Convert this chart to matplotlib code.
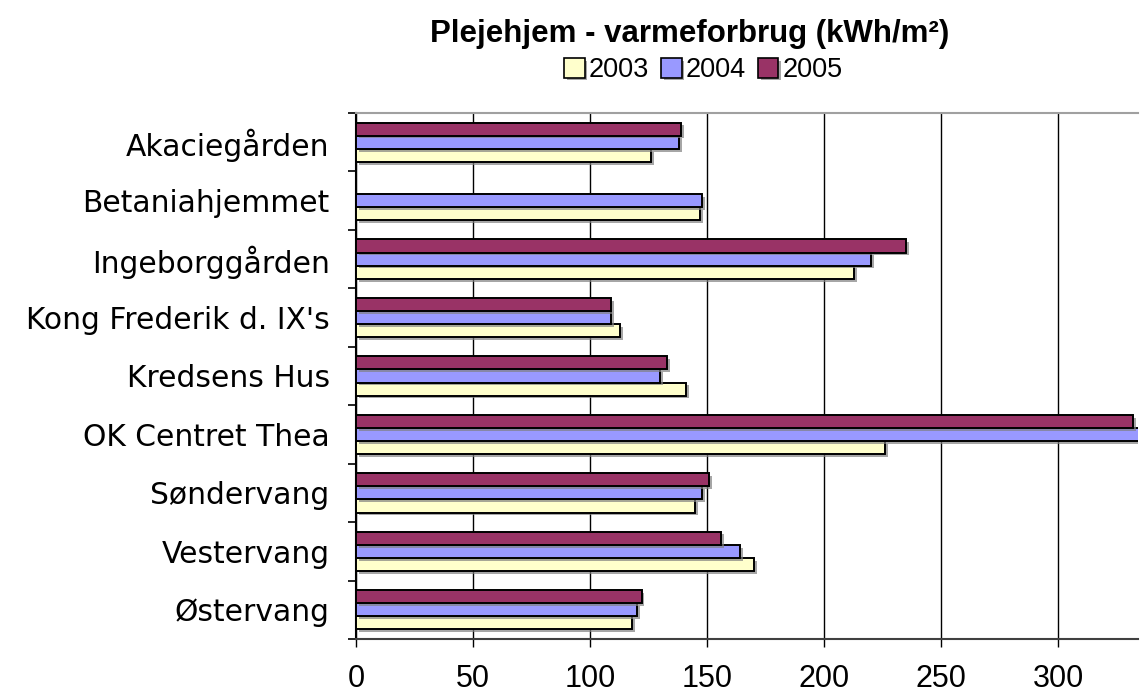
import matplotlib.pyplot as plt
import matplotlib.patheffects as pe
import numpy as np

homes = ['Akaciegården', 'Betaniahjemmet', 'Ingeborggården', "Kong Frederik d. IX's",
         'Kredsens Hus', 'OK Centret Thea', 'Søndervang', 'Vestervang', 'Østervang']
years = ['2003', '2004', '2005']
heat_2003 = [126, 147, 213, 113, 141, 226, 145, 170, 118]
heat_2004 = [138, 148, 220, 109, 130, 345, 148, 164, 120]
heat_2005 = [139, 0, 235, 109, 133, 332, 151, 156, 122]
colors = ['#FFFFCC', '#9999FF', '#993366']

fig = plt.figure(figsize=(11.4, 6.95), dpi=100)
ax = fig.add_axes([0.3123, 0.0806, 0.686, 0.7568])

y = np.arange(len(homes))
h = 0.224
shadow = [pe.SimplePatchShadow(offset=(2, -2), shadow_rgbFace='#808080', alpha=0.7), pe.Normal()]
series = [heat_2003, heat_2004, heat_2005]
offsets = [h, 0, -h]
for vals, off, col, lab in zip(series, offsets, colors, years):
    vals = np.array(vals, dtype=float)
    mask = vals > 0
    bars = ax.barh(y[mask] + off, vals[mask], height=h, color=col, edgecolor='black',
                   linewidth=1.4, label=lab, zorder=3)
    for b in bars:
        b.set_path_effects(shadow)

ax.set_xlim(0, 334.2)
ax.set_ylim(len(homes) - 0.5, -0.5)
ax.set_xticks(np.arange(0, 301, 50))
ax.xaxis.grid(True, color='black', linewidth=1.0, zorder=0)

ax.set_yticks(y)
ax.set_yticklabels(homes, fontsize=21.4, family='DejaVu Sans')
ax.set_yticks(np.arange(-0.5, len(homes), 1), minor=True)
ax.tick_params(axis='y', which='major', length=0, pad=19)
ax.tick_params(axis='y', which='minor', length=6, width=1.2, direction='out', color='black')
ax.tick_params(axis='x', length=6, width=1.0, direction='out', pad=12)
for t in ax.get_xticklabels():
    t.set_fontfamily('Liberation Sans')
    t.set_fontsize(22)

ax.spines['right'].set_visible(False)
ax.spines['top'].set_color('#A0A0A0')
ax.spines['top'].set_linewidth(1.5)
ax.spines['left'].set_linewidth(1.5)
ax.spines['bottom'].set_linewidth(1.5)
ax.spines['bottom'].set_color('#404040')

fig.text(0.605, 0.951, 'Plejehjem - varmeforbrug (kWh/m²)', ha='center', va='center',
         fontsize=22.5, fontweight='bold', family='Liberation Sans')
leg = fig.legend(loc='center', bbox_to_anchor=(0.617, 0.899), ncol=3, frameon=False,
                 prop={'family': 'Liberation Sans', 'size': 19.5}, handlelength=0.75,
                 handleheight=0.75, handletextpad=0.15, columnspacing=0.45)
for p in leg.get_patches():
    p.set_linewidth(1.2)

fig.savefig('out.png', dpi=100)
